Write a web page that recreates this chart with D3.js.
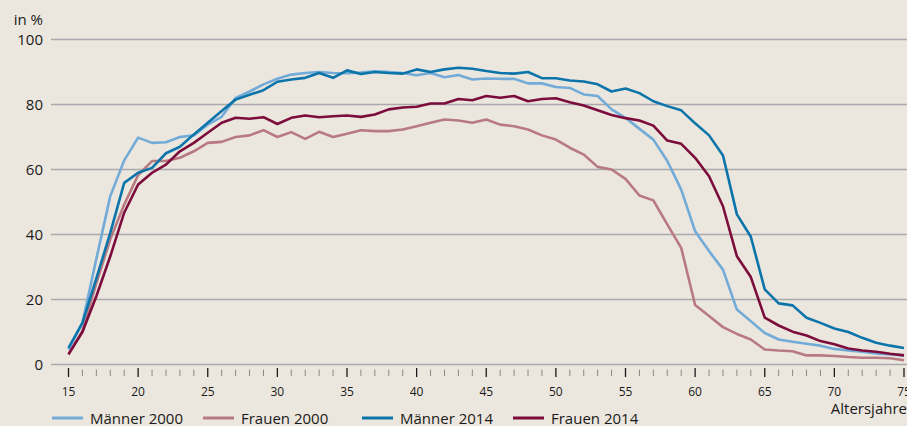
<!DOCTYPE html>
<html>
<head>
<meta charset="utf-8">
<script src="https://cdn.jsdelivr.net/npm/d3@7"></script>
<style>
  body { margin: 0; background: #ece7de; }
  svg { display: block; font-family: "Open Sans", sans-serif; }
</style>
</head>
<body>
<svg id="chart" width="907" height="426"></svg>
<script>
// ages 15..75
var ages = d3.range(15, 76);

var maenner2000 = [4.6, 12.8, 32.5, 51.8, 62.8, 69.8, 68.2, 68.4, 70, 70.5,
  73.8, 76.2, 82, 84, 86.2, 87.9, 89.2, 89.7, 90, 89.7,
  89.6, 89.8, 90.2, 90, 89.7, 89, 89.7, 88.4, 89.1, 87.7,
  88, 87.9, 87.9, 86.5, 86.5, 85.4, 85.1, 83.1, 82.6, 78.5,
  75.9, 72.5, 69.2, 62.6, 53.8, 41, 34.9, 29.2, 16.9, 13.3,
  9.7, 7.7, 7, 6.4, 5.8, 4.8, 4.3, 3.9, 3.4, 3.1, 2.8];

var frauen2000 = [3, 10.3, 25, 38.5, 49.2, 58.3, 62.6, 62.6, 63.6, 65.6,
  68.2, 68.5, 70, 70.5, 72.1, 70, 71.5, 69.4, 71.6, 70,
  71, 72.1, 71.8, 71.8, 72.3, 73.3, 74.4, 75.4, 75.1, 74.4,
  75.4, 73.8, 73.3, 72.3, 70.5, 69.2, 66.7, 64.6, 60.8, 60,
  57.1, 52, 50.5, 43.1, 35.9, 18.3, 14.9, 11.5, 9.4, 7.7,
  4.6, 4.3, 4.1, 2.8, 2.8, 2.6, 2.3, 2.1, 2.1, 1.9, 1.3];

var maenner2014 = [5.1, 12.8, 26.5, 40.5, 55.9, 59, 60.5, 65, 67, 70.8,
  74.4, 78, 81.5, 83, 84.4, 87, 87.7, 88.2, 89.7, 88.2,
  90.5, 89.4, 90, 89.7, 89.5, 90.8, 90, 90.8, 91.3, 91,
  90.3, 89.7, 89.5, 90, 88.1, 88.1, 87.4, 87.1, 86.2, 84,
  84.9, 83.5, 81, 79.5, 78.2, 74.2, 70.5, 64.3, 46.2, 39.3,
  23.1, 18.8, 18.2, 14.4, 12.8, 11.1, 10, 8.2, 6.7, 5.8, 5.1];

var frauen2014 = [3.2, 10, 21, 33.3, 46.7, 55.4, 59, 61.5, 65.6, 68.2,
  71.3, 74.4, 75.9, 75.6, 76.1, 74, 75.9, 76.6, 76.1, 76.4,
  76.6, 76.2, 76.9, 78.5, 79.1, 79.3, 80.3, 80.3, 81.7, 81.3,
  82.6, 82.1, 82.6, 81, 81.7, 81.9, 80.7, 79.7, 78.2, 76.8,
  75.8, 75.1, 73.5, 68.9, 67.9, 63.6, 57.9, 48.7, 33.3, 26.9,
  14.4, 12, 10.1, 8.9, 7.2, 6.2, 4.9, 4.3, 3.9, 3.3, 2.8];

var seriesNames = ["Männer 2000", "Frauen 2000", "Männer 2014", "Frauen 2014"];
var seriesColors = ["#72abd8", "#b87a82", "#0b74aa", "#7b0c3b"];
var yTicks = [0, 20, 40, 60, 80, 100];

var series = [maenner2000, frauen2000, maenner2014, frauen2014];

var svg = d3.select("#chart");

var x = d3.scaleLinear().domain([15, 75]).range([68.5, 904]);
var y = d3.scaleLinear().domain([0, 100]).range([364.5, 39.5]);

// grid
svg.append("g").selectAll("line")
  .data(yTicks)
  .join("line")
  .attr("x1", 51).attr("x2", 907)
  .attr("y1", function(d){ return y(d); })
  .attr("y2", function(d){ return y(d); })
  .attr("stroke", "#a9a9ad")
  .attr("stroke-width", 1.6);

svg.append("g").selectAll("text")
  .data(yTicks)
  .join("text")
  .attr("x", 43)
  .attr("y", function(d){ return y(d); })
  .attr("dy", "0.36em")
  .attr("text-anchor", "end")
  .attr("font-size", 15)
  .attr("fill", "#1a1a1a")
  .text(function(d){ return d; });

svg.append("text")
  .attr("x", 43).attr("y", 25)
  .attr("text-anchor", "end")
  .attr("font-size", 15)
  .attr("fill", "#1a1a1a")
  .text("in %");

// x ticks, one per year, labelled every 5
svg.append("g").selectAll("line")
  .data(ages)
  .join("line")
  .attr("x1", function(d){ return x(d); })
  .attr("x2", function(d){ return x(d); })
  .attr("y1", function(d){ return d % 5 === 0 ? 368 : 369.5; })
  .attr("y2", function(d){ return d % 5 === 0 ? 377 : 376; })
  .attr("stroke", function(d){ return d % 5 === 0 ? "#1a1a1a" : "#8a8a8a"; })
  .attr("stroke-width", function(d){ return d % 5 === 0 ? 1.3 : 1; });

svg.append("g").selectAll("text")
  .data(ages.filter(function(d){ return d % 5 === 0; }))
  .join("text")
  .attr("x", function(d){ return x(d); })
  .attr("y", 396)
  .attr("text-anchor", "middle")
  .attr("font-size", 12)
  .attr("fill", "#1a1a1a")
  .text(function(d){ return d; });

svg.append("text")
  .attr("x", 907).attr("y", 414)
  .attr("text-anchor", "end")
  .attr("font-size", 15)
  .attr("fill", "#1a1a1a")
  .text("Altersjahre");

// lines
var line = d3.line()
  .x(function(d, i){ return x(ages[i]); })
  .y(function(d){ return y(d); });

svg.append("g").selectAll("path")
  .data(series)
  .join("path")
  .attr("d", line)
  .attr("fill", "none")
  .attr("stroke", function(d, i){ return seriesColors[i]; })
  .attr("stroke-width", 2.6)
  .attr("stroke-linejoin", "round");

// legend
var legendX = [52, 203, 362, 513];
var lg = svg.append("g").selectAll("g")
  .data(seriesNames)
  .join("g")
  .attr("transform", function(d, i){ return "translate(" + legendX[i] + ",418)"; });

lg.append("line")
  .attr("x1", 0).attr("x2", 31)
  .attr("stroke", function(d, i){ return seriesColors[i]; })
  .attr("stroke-width", 3);

lg.append("text")
  .attr("x", 38).attr("y", 5.5)
  .attr("font-size", 15)
  .attr("fill", "#1a1a1a")
  .text(function(d){ return d; });
</script>
</body>
</html>
